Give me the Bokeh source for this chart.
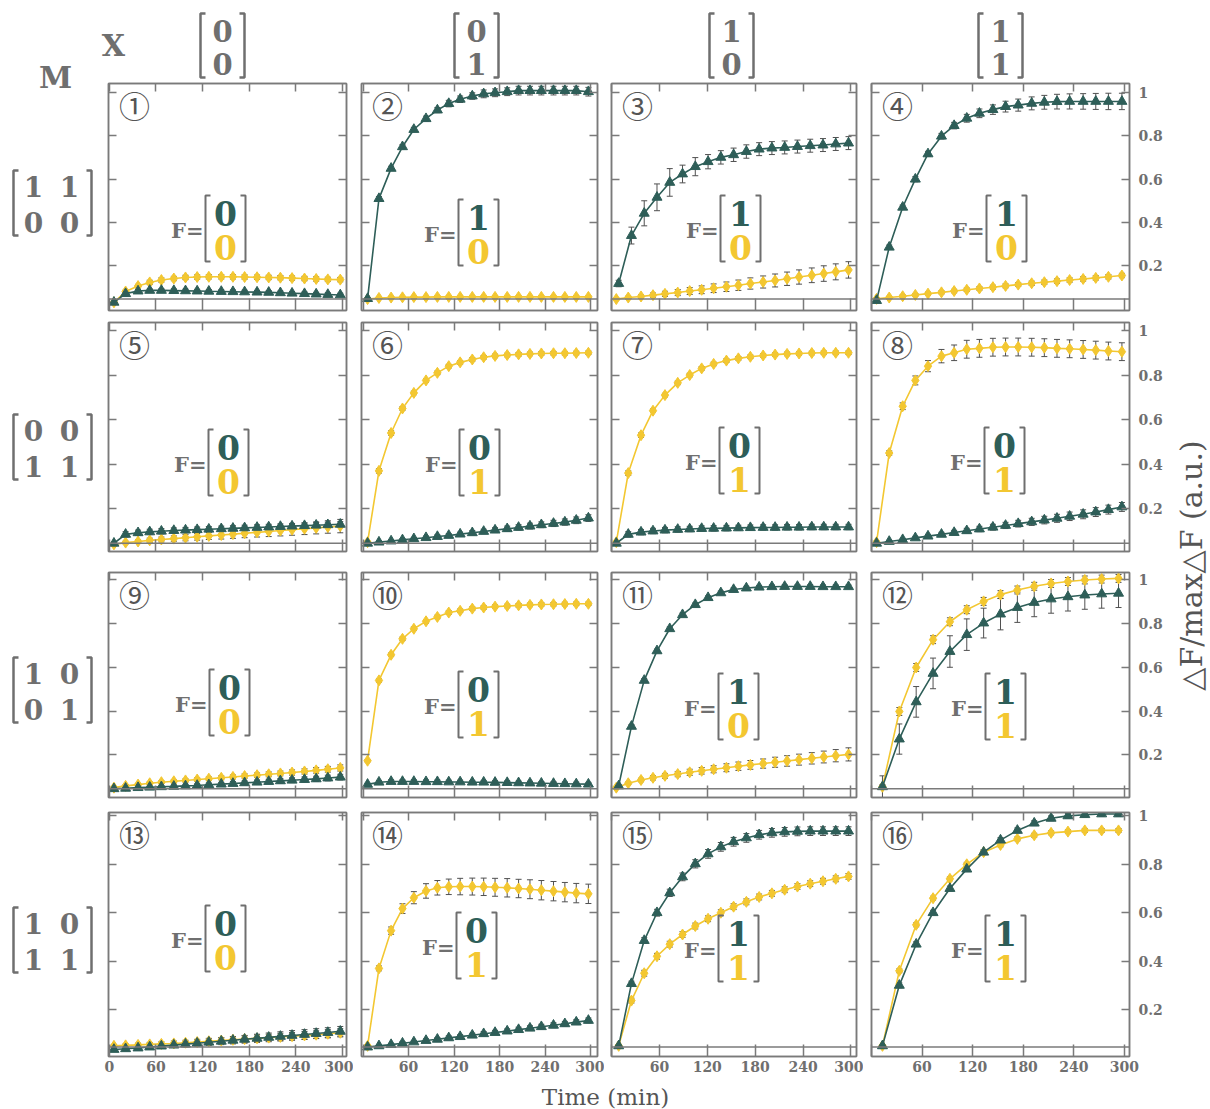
from bokeh.plotting import figure
from bokeh.models import (Range1d, LinearAxis, FixedTicker, Span, Whisker, TeeHead,
                          ColumnDataSource, NumeralTickFormatter, Label)
from bokeh.layouts import row, column
from bokeh.embed import file_html
from bokeh.resources import INLINE
from bokeh.core.properties import value
import math

# ---------------- data ----------------
T20 = [6, 21, 37, 52, 67, 83, 98, 113, 128, 144, 159, 174, 190, 205, 220, 235, 251, 266, 281, 297]
T19 = [9, 25, 41, 57, 73, 89, 105, 121, 137, 153, 169, 185, 201, 217, 233, 249, 265, 281, 297]
T15 = [13, 33, 53, 73, 93, 113, 133, 153, 173, 193, 213, 233, 253, 273, 293]

x_ticks = [0, 60, 120, 180, 240, 300]
y_ticks = [0.2, 0.4, 0.6, 0.8, 1.0]
col_header = [["0", "0"], ["0", "1"], ["1", "0"], ["1", "1"]]
row_header = [[["1", "1"], ["0", "0"]], [["0", "0"], ["1", "1"]],
              [["1", "0"], ["0", "1"]], [["1", "0"], ["1", "1"]]]
f_values = [["0", "0"], ["1", "0"], ["1", "0"], ["1", "0"],
            ["0", "0"], ["0", "1"], ["0", "1"], ["0", "1"],
            ["0", "0"], ["0", "1"], ["1", "0"], ["1", "1"],
            ["0", "0"], ["0", "1"], ["1", "1"], ["1", "1"]]
numbers = ["①", "②", "③", "④", "⑤", "⑥", "⑦", "⑧", "⑨", "⑩", "⑪", "⑫", "⑬", "⑭", "⑮", "⑯"]

p1_g = [0.03, 0.07, 0.082, 0.085, 0.085, 0.084, 0.083, 0.082, 0.081, 0.08, 0.079, 0.078, 0.077, 0.076, 0.074, 0.072, 0.07, 0.068, 0.066, 0.064]
p1_ge = [0.004, 0.006, 0.007, 0.007, 0.008, 0.008, 0.008, 0.008, 0.008, 0.008, 0.008, 0.008, 0.008, 0.008, 0.008, 0.008, 0.008, 0.008, 0.008, 0.008]
p1_y = [0.03, 0.08, 0.105, 0.122, 0.133, 0.14, 0.145, 0.147, 0.148, 0.148, 0.148, 0.147, 0.146, 0.145, 0.144, 0.142, 0.14, 0.138, 0.136, 0.135]
p1_ye = [0.004, 0.006, 0.008, 0.01, 0.01, 0.01, 0.01, 0.01, 0.01, 0.01, 0.01, 0.01, 0.01, 0.01, 0.01, 0.01, 0.01, 0.01, 0.01, 0.01]

p2_g = [0.047, 0.51, 0.65, 0.75, 0.83, 0.88, 0.92, 0.95, 0.97, 0.985, 0.995, 1.0, 1.005, 1.01, 1.01, 1.01, 1.01, 1.01, 1.01, 1.005]
p2_ge = [0.005, 0.01, 0.01, 0.01, 0.01, 0.012, 0.012, 0.015, 0.015, 0.015, 0.018, 0.018, 0.018, 0.02, 0.02, 0.02, 0.02, 0.02, 0.02, 0.02]
p2_y = [0.045, 0.05, 0.052, 0.053, 0.054, 0.054, 0.055, 0.055, 0.055, 0.055, 0.055, 0.055, 0.055, 0.055, 0.055, 0.055, 0.055, 0.055, 0.055, 0.055]
p2_ye = [0.003, 0.004, 0.004, 0.004, 0.004, 0.004, 0.004, 0.004, 0.004, 0.004, 0.004, 0.004, 0.004, 0.004, 0.004, 0.004, 0.004, 0.004, 0.004, 0.004]

p3_g = [0.117, 0.339, 0.442, 0.516, 0.585, 0.624, 0.658, 0.681, 0.701, 0.713, 0.728, 0.739, 0.744, 0.747, 0.751, 0.755, 0.758, 0.763, 0.767]
p3_ge = [0.015, 0.039, 0.058, 0.062, 0.064, 0.041, 0.042, 0.033, 0.031, 0.031, 0.031, 0.03, 0.03, 0.03, 0.03, 0.03, 0.03, 0.03, 0.03]
p3_y = [0.045, 0.052, 0.057, 0.063, 0.069, 0.075, 0.082, 0.088, 0.095, 0.102, 0.109, 0.117, 0.124, 0.131, 0.139, 0.147, 0.155, 0.163, 0.171, 0.18]
p3_ye = [0.004, 0.006, 0.008, 0.01, 0.012, 0.014, 0.016, 0.018, 0.02, 0.022, 0.024, 0.026, 0.028, 0.03, 0.031, 0.033, 0.034, 0.036, 0.037, 0.038]

p4_g = [0.038, 0.285, 0.47, 0.6, 0.717, 0.799, 0.848, 0.882, 0.905, 0.922, 0.936, 0.943, 0.951, 0.956, 0.959, 0.96, 0.96, 0.96, 0.96, 0.96]
p4_ge = [0.005, 0.01, 0.01, 0.012, 0.012, 0.013, 0.015, 0.018, 0.02, 0.022, 0.025, 0.028, 0.03, 0.032, 0.034, 0.035, 0.036, 0.037, 0.038, 0.038]
p4_y = [0.046, 0.052, 0.058, 0.064, 0.07, 0.076, 0.082, 0.088, 0.094, 0.1, 0.106, 0.112, 0.118, 0.123, 0.128, 0.133, 0.138, 0.143, 0.148, 0.154]
p4_ye = [0.004, 0.005, 0.006, 0.006, 0.007, 0.007, 0.008, 0.008, 0.008, 0.009, 0.009, 0.009, 0.01, 0.01, 0.01, 0.01, 0.01, 0.01, 0.01, 0.01]

p5_g = [0.045, 0.085, 0.092, 0.096, 0.099, 0.102, 0.104, 0.106, 0.108, 0.11, 0.112, 0.114, 0.116, 0.118, 0.12, 0.122, 0.124, 0.126, 0.128, 0.13]
p5_ge = [0.005, 0.012, 0.012, 0.012, 0.012, 0.012, 0.012, 0.012, 0.012, 0.012, 0.012, 0.012, 0.012, 0.012, 0.012, 0.012, 0.012, 0.012, 0.012, 0.012]
p5_y = [0.04, 0.048, 0.053, 0.058, 0.062, 0.066, 0.07, 0.074, 0.078, 0.082, 0.086, 0.09, 0.094, 0.098, 0.102, 0.106, 0.11, 0.114, 0.118, 0.122]
p5_ye = [0.004, 0.006, 0.008, 0.01, 0.011, 0.012, 0.014, 0.015, 0.016, 0.018, 0.019, 0.02, 0.021, 0.023, 0.024, 0.025, 0.026, 0.027, 0.028, 0.03]

p6_g = [0.045, 0.05, 0.055, 0.06, 0.065, 0.07, 0.075, 0.08, 0.086, 0.092, 0.098, 0.104, 0.11, 0.116, 0.122, 0.128, 0.134, 0.14, 0.148, 0.158]
p6_ge = [0.004, 0.005, 0.005, 0.006, 0.006, 0.007, 0.008, 0.008, 0.009, 0.01, 0.01, 0.011, 0.012, 0.012, 0.013, 0.013, 0.014, 0.014, 0.015, 0.015]
p6_y = [0.05, 0.37, 0.54, 0.65, 0.72, 0.776, 0.81, 0.84, 0.857, 0.87, 0.88, 0.886, 0.89, 0.893, 0.895, 0.897, 0.898, 0.898, 0.899, 0.9]
p6_ye = [0.004, 0.01, 0.01, 0.008, 0.008, 0.008, 0.008, 0.008, 0.008, 0.008, 0.008, 0.008, 0.008, 0.008, 0.008, 0.008, 0.008, 0.008, 0.008, 0.008]

p7_g = [0.045, 0.085, 0.095, 0.1, 0.104, 0.107, 0.109, 0.111, 0.112, 0.113, 0.114, 0.115, 0.116, 0.116, 0.117, 0.117, 0.118, 0.118, 0.118, 0.118]
p7_ge = [0.005, 0.012, 0.012, 0.012, 0.012, 0.012, 0.012, 0.012, 0.012, 0.012, 0.012, 0.012, 0.012, 0.012, 0.012, 0.012, 0.012, 0.012, 0.012, 0.012]
p7_y = [0.05, 0.36, 0.53, 0.64, 0.71, 0.765, 0.8, 0.83, 0.85, 0.865, 0.875, 0.882, 0.888, 0.892, 0.895, 0.897, 0.899, 0.9, 0.9, 0.9]
p7_ye = [0.004, 0.01, 0.01, 0.008, 0.008, 0.008, 0.008, 0.008, 0.008, 0.008, 0.008, 0.008, 0.008, 0.008, 0.008, 0.008, 0.008, 0.008, 0.008, 0.008]

p8_g = [0.045, 0.053, 0.061, 0.069, 0.077, 0.085, 0.093, 0.101, 0.109, 0.117, 0.125, 0.133, 0.141, 0.149, 0.157, 0.166, 0.175, 0.185, 0.196, 0.208]
p8_ge = [0.004, 0.005, 0.006, 0.007, 0.008, 0.009, 0.01, 0.011, 0.012, 0.013, 0.014, 0.015, 0.016, 0.017, 0.018, 0.019, 0.02, 0.02, 0.02, 0.02]
p8_y = [0.05, 0.45, 0.66, 0.776, 0.84, 0.885, 0.9, 0.916, 0.92, 0.925, 0.926, 0.926, 0.925, 0.923, 0.92, 0.918, 0.915, 0.912, 0.908, 0.905]
p8_ye = [0.005, 0.01, 0.015, 0.02, 0.025, 0.03, 0.035, 0.04, 0.04, 0.04, 0.04, 0.04, 0.04, 0.04, 0.04, 0.04, 0.04, 0.04, 0.04, 0.04]

p9_g = [0.045, 0.047, 0.05, 0.052, 0.054, 0.056, 0.058, 0.06, 0.063, 0.066, 0.069, 0.072, 0.075, 0.078, 0.081, 0.084, 0.087, 0.09, 0.094, 0.098]
p9_ge = [0.004, 0.004, 0.005, 0.005, 0.006, 0.006, 0.007, 0.007, 0.008, 0.008, 0.009, 0.009, 0.01, 0.01, 0.011, 0.011, 0.012, 0.012, 0.013, 0.013]
p9_y = [0.05, 0.058, 0.064, 0.07, 0.075, 0.079, 0.083, 0.087, 0.091, 0.095, 0.099, 0.103, 0.107, 0.111, 0.115, 0.119, 0.124, 0.129, 0.134, 0.14]
p9_ye = [0.004, 0.005, 0.005, 0.006, 0.006, 0.007, 0.007, 0.008, 0.008, 0.009, 0.009, 0.01, 0.01, 0.011, 0.011, 0.012, 0.012, 0.013, 0.013, 0.014]

p10_g = [0.065, 0.075, 0.078, 0.078, 0.078, 0.077, 0.077, 0.076, 0.076, 0.075, 0.075, 0.074, 0.073, 0.072, 0.071, 0.07, 0.069, 0.068, 0.067, 0.066]
p10_ge = [0.005, 0.008, 0.008, 0.008, 0.008, 0.008, 0.008, 0.008, 0.008, 0.008, 0.008, 0.008, 0.008, 0.008, 0.008, 0.008, 0.008, 0.008, 0.008, 0.008]
p10_y = [0.173, 0.54, 0.657, 0.73, 0.776, 0.81, 0.83, 0.85, 0.858, 0.868, 0.873, 0.877, 0.88, 0.883, 0.885, 0.887, 0.888, 0.889, 0.89, 0.89]
p10_ye = [0.005, 0.008, 0.008, 0.008, 0.008, 0.008, 0.008, 0.008, 0.008, 0.008, 0.008, 0.008, 0.008, 0.008, 0.008, 0.008, 0.008, 0.008, 0.008, 0.008]

p11_g = [0.058, 0.33, 0.54, 0.675, 0.776, 0.84, 0.886, 0.918, 0.94, 0.955, 0.962, 0.966, 0.968, 0.969, 0.969, 0.969, 0.968, 0.968, 0.968]
p11_ge = [0.005, 0.008, 0.008, 0.008, 0.008, 0.008, 0.008, 0.008, 0.008, 0.008, 0.008, 0.008, 0.008, 0.008, 0.008, 0.008, 0.008, 0.008, 0.008]
p11_y = [0.05, 0.07, 0.085, 0.095, 0.104, 0.112, 0.12, 0.127, 0.134, 0.141, 0.148, 0.154, 0.16, 0.166, 0.172, 0.178, 0.184, 0.19, 0.196, 0.202]
p11_ye = [0.004, 0.006, 0.008, 0.01, 0.011, 0.012, 0.014, 0.015, 0.016, 0.018, 0.019, 0.02, 0.021, 0.023, 0.024, 0.025, 0.026, 0.027, 0.028, 0.03]

p12_g = [0.054, 0.272, 0.442, 0.572, 0.672, 0.749, 0.802, 0.843, 0.873, 0.896, 0.912, 0.922, 0.93, 0.935, 0.938]
p12_ge = [0.05, 0.069, 0.07, 0.07, 0.072, 0.072, 0.068, 0.072, 0.068, 0.065, 0.065, 0.065, 0.065, 0.065, 0.065]
p12_y = [0.054, 0.398, 0.599, 0.726, 0.808, 0.863, 0.901, 0.932, 0.953, 0.97, 0.983, 0.992, 0.999, 1.003, 1.006]
p12_ye = [0.01, 0.018, 0.018, 0.018, 0.018, 0.018, 0.018, 0.018, 0.018, 0.018, 0.018, 0.018, 0.018, 0.018, 0.018]

p13_g = [0.035, 0.038, 0.041, 0.045, 0.049, 0.053, 0.057, 0.061, 0.065, 0.069, 0.073, 0.077, 0.081, 0.085, 0.089, 0.093, 0.097, 0.101, 0.105, 0.11]
p13_ge = [0.005, 0.006, 0.007, 0.008, 0.009, 0.01, 0.011, 0.012, 0.013, 0.014, 0.015, 0.016, 0.017, 0.018, 0.019, 0.02, 0.02, 0.02, 0.02, 0.02]
p13_y = [0.05, 0.052, 0.054, 0.056, 0.058, 0.06, 0.063, 0.066, 0.069, 0.072, 0.075, 0.078, 0.081, 0.084, 0.087, 0.09, 0.093, 0.096, 0.1, 0.104]
p13_ye = [0.005, 0.006, 0.007, 0.008, 0.009, 0.01, 0.01, 0.011, 0.012, 0.012, 0.013, 0.013, 0.014, 0.014, 0.015, 0.015, 0.016, 0.016, 0.017, 0.017]

p14_g = [0.045, 0.05, 0.055, 0.061, 0.066, 0.072, 0.077, 0.083, 0.088, 0.094, 0.1, 0.105, 0.111, 0.117, 0.123, 0.129, 0.135, 0.141, 0.148, 0.155]
p14_ge = [0.004, 0.005, 0.005, 0.006, 0.006, 0.007, 0.007, 0.008, 0.008, 0.008, 0.009, 0.009, 0.009, 0.01, 0.01, 0.01, 0.01, 0.01, 0.01, 0.01]
p14_y = [0.05, 0.37, 0.526, 0.617, 0.662, 0.69, 0.703, 0.707, 0.708, 0.708, 0.707, 0.705, 0.703, 0.7, 0.697, 0.693, 0.689, 0.685, 0.681, 0.678]
p14_ye = [0.005, 0.01, 0.015, 0.02, 0.025, 0.03, 0.03, 0.032, 0.034, 0.035, 0.036, 0.037, 0.038, 0.038, 0.039, 0.04, 0.04, 0.04, 0.04, 0.04]

p15_g = [0.05, 0.307, 0.485, 0.6, 0.682, 0.748, 0.802, 0.843, 0.872, 0.893, 0.909, 0.922, 0.93, 0.934, 0.936, 0.937, 0.937, 0.937, 0.937]
p15_ge = [0.005, 0.01, 0.012, 0.014, 0.015, 0.016, 0.017, 0.018, 0.018, 0.018, 0.018, 0.018, 0.018, 0.018, 0.018, 0.018, 0.018, 0.018, 0.018]
p15_y = [0.05, 0.237, 0.35, 0.42, 0.47, 0.51, 0.545, 0.575, 0.6, 0.625, 0.645, 0.665, 0.68, 0.695, 0.708, 0.72, 0.73, 0.74, 0.75]
p15_ye = [0.005, 0.01, 0.012, 0.012, 0.012, 0.012, 0.012, 0.012, 0.012, 0.012, 0.012, 0.012, 0.012, 0.012, 0.012, 0.012, 0.012, 0.012, 0.012]

p16_g = [0.05, 0.3, 0.47, 0.6, 0.7, 0.78, 0.85, 0.9, 0.94, 0.97, 0.99, 1.0, 1.005, 1.008, 1.008]
p16_ge = [0.005, 0.01, 0.01, 0.01, 0.01, 0.01, 0.01, 0.01, 0.01, 0.01, 0.01, 0.01, 0.01, 0.01, 0.01]
p16_y = [0.05, 0.36, 0.55, 0.66, 0.74, 0.8, 0.85, 0.88, 0.905, 0.92, 0.93, 0.935, 0.94, 0.94, 0.94]
p16_ye = [0.005, 0.008, 0.008, 0.008, 0.008, 0.008, 0.008, 0.008, 0.008, 0.008, 0.008, 0.008, 0.008, 0.008, 0.008]

series = [
    (T20, p1_g, p1_ge, T20, p1_y, p1_ye), (T20, p2_g, p2_ge, T20, p2_y, p2_ye),
    (T19, p3_g, p3_ge, T20, p3_y, p3_ye), (T20, p4_g, p4_ge, T20, p4_y, p4_ye),
    (T20, p5_g, p5_ge, T20, p5_y, p5_ye), (T20, p6_g, p6_ge, T20, p6_y, p6_ye),
    (T20, p7_g, p7_ge, T20, p7_y, p7_ye), (T20, p8_g, p8_ge, T20, p8_y, p8_ye),
    (T20, p9_g, p9_ge, T20, p9_y, p9_ye), (T20, p10_g, p10_ge, T20, p10_y, p10_ye),
    (T19, p11_g, p11_ge, T20, p11_y, p11_ye), (T15, p12_g, p12_ge, T15, p12_y, p12_ye),
    (T20, p13_g, p13_ge, T20, p13_y, p13_ye), (T20, p14_g, p14_ge, T20, p14_y, p14_ye),
    (T19, p15_g, p15_ge, T19, p15_y, p15_ye), (T15, p16_g, p16_ge, T15, p16_y, p16_ye),
]

# ---------------- style / layout ----------------
GREEN = "#2e5e58"
YELLOW = "#f3c731"
GRAY = "#6f6f6f"
FRAME = "#7a7a7a"
ERR = "#505050"
SERIF = "DejaVu Serif"

HEADER_H = 80
col_w = [253, 251, 259, 309]
col_bl = [8, 8, 7, 8]
col_br = [7, 7, 7, 43]
row_h = [236, 245, 243, 276]
row_bt = [3, 6, 11, 8]
row_bb = [6, 10, 7, 24]
frame_l = [108, 361, 611, 871]
frame_t = [83, 322, 572, 812]
x_ranges = [(-1, 305), (-2, 309), (0, 307), (0, 306)]
y_ranges = [(-0.008, 1.043), (0.008, 1.036), (0.005, 1.033), (0.006, 1.014)]
f_pos = [(205, 228), (458, 232), (720, 228), (986, 228),
         (208, 462), (459, 462), (719, 460), (984, 460),
         (209, 702), (458, 704), (718, 706), (985, 706),
         (205, 938), (456, 945), (718, 948), (985, 948)]


def px2data(r, c, ax, ay):
    fw = col_w[c] - col_bl[c] - col_br[c]
    fh = row_h[r] - row_bt[r] - row_bb[r]
    x0, x1 = x_ranges[c]
    y0, y1 = y_ranges[r]
    return x0 + (ax - frame_l[c]) / fw * (x1 - x0), y1 - (ay - frame_t[r]) / fh * (y1 - y0)


def bracket_xy(bx, top, bot, w, s=5):
    xs = [[bx + s, bx, bx, bx + s], [bx + w - s, bx + w, bx + w, bx + w - s]]
    ys = [[top, top, bot, bot], [top, top, bot, bot]]
    return xs, ys


def style_axis(ax, ticks, show, tick_in=8, fmt=None, standoff=6, overrides=None):
    ax.ticker = FixedTicker(ticks=ticks)
    ax.major_tick_in = tick_in
    ax.major_tick_out = 0
    ax.minor_tick_line_color = None
    ax.axis_line_color = FRAME
    ax.axis_line_width = 1.5
    ax.major_tick_line_color = FRAME
    ax.major_tick_line_width = 1.5
    if show:
        ax.major_label_text_font = SERIF
        ax.major_label_text_font_style = "bold"
        ax.major_label_text_font_size = "14px"
        ax.major_label_text_color = GRAY
        ax.major_label_standoff = standoff
        if fmt:
            ax.formatter = fmt
        if overrides:
            ax.major_label_overrides = overrides
    else:
        ax.major_label_text_font_size = "0px"
        ax.major_label_standoff = 0


def make_panel(k):
    r, c = divmod(k, 4)
    p = figure(width=col_w[c], height=row_h[r],
               x_range=Range1d(*x_ranges[c]), y_range=Range1d(*y_ranges[r]),
               output_backend="svg", toolbar_location=None,
               min_border_left=col_bl[c], min_border_right=col_br[c],
               min_border_top=row_bt[r], min_border_bottom=row_bb[r])
    p.xgrid.visible = False
    p.ygrid.visible = False
    p.outline_line_color = FRAME
    p.outline_line_width = 1.5
    p.border_fill_color = "white"

    style_axis(p.xaxis[0], x_ticks, r == 3, tick_in=12, standoff=4,
               overrides=None if c == 0 else {0: ""})
    style_axis(p.yaxis[0], y_ticks, False)
    top = LinearAxis()
    style_axis(top, x_ticks, False)
    p.add_layout(top, "above")
    right = LinearAxis()
    style_axis(right, y_ticks, c == 3, fmt=NumeralTickFormatter(format="0.[0]"), standoff=9)
    p.add_layout(right, "right")

    p.add_layout(Span(location=0.045, dimension="width", line_color=FRAME, line_width=1.5))

    tg, g, ge, ty, yv, ye = series[k]
    ys = ColumnDataSource(dict(t=ty, v=yv, lo=[a - b for a, b in zip(yv, ye)], hi=[a + b for a, b in zip(yv, ye)]))
    gs = ColumnDataSource(dict(t=tg, v=g, lo=[a - b for a, b in zip(g, ge)], hi=[a + b for a, b in zip(g, ge)]))
    for src in (ys, gs):
        p.add_layout(Whisker(source=src, base="t", lower="lo", upper="hi", line_color=ERR, line_width=1,
                             upper_head=TeeHead(size=6, line_color=ERR, line_width=1),
                             lower_head=TeeHead(size=6, line_color=ERR, line_width=1)))
    p.line("t", "v", source=ys, line_color=YELLOW, line_width=1.6)
    p.scatter("t", "v", source=ys, marker="diamond", size=11, fill_color=YELLOW, line_color=YELLOW)
    p.line("t", "v", source=gs, line_color=GREEN, line_width=1.6)
    p.scatter("t", "v", source=gs, marker="triangle", size=10, fill_color=GREEN, line_color=GREEN)

    # circled panel number
    nx, ny = px2data(r, c, frame_l[c] + 26, frame_t[r] + 21)
    p.add_layout(Label(x=nx, y=ny, text=numbers[k], text_font="Noto Sans CJK JP",
                       text_font_size="31px", text_color="#555555",
                       text_align="center", text_baseline="middle"))

    # F = [a; b]
    bx, cy = f_pos[k]
    w = 40
    xs, ysb = bracket_xy(bx, cy - 33, cy + 33, w)
    dxs = [[px2data(r, c, a, 0)[0] for a in line] for line in xs]
    dys = [[px2data(r, c, 0, b)[1] for b in line] for line in ysb]
    p.multi_line(dxs, dys, line_color=GRAY, line_width=2)
    fx, fy = px2data(r, c, bx - 2, cy + 2)
    p.add_layout(Label(x=fx, y=fy, text="F=", text_font=SERIF, text_font_style="bold",
                       text_font_size="21px", text_color=GRAY, text_align="right", text_baseline="middle"))
    tx, ty1 = px2data(r, c, bx + w / 2, cy - 15)
    _, ty2 = px2data(r, c, bx + w / 2, cy + 19)
    p.add_layout(Label(x=tx, y=ty1, text=f_values[k][0], text_font=SERIF, text_font_style="bold",
                       text_font_size="33px", text_color=GREEN, text_align="center", text_baseline="middle"))
    p.add_layout(Label(x=tx, y=ty2, text=f_values[k][1], text_font=SERIF, text_font_style="bold",
                       text_font_size="33px", text_color=YELLOW, text_align="center", text_baseline="middle"))
    return p


def blank(w, h, xr, yr):
    p = figure(width=w, height=h, x_range=Range1d(*xr), y_range=Range1d(*yr),
               output_backend="svg", toolbar_location=None, x_axis_type=None, y_axis_type=None,
               min_border=0)
    p.xgrid.visible = False
    p.ygrid.visible = False
    p.outline_line_color = None
    p.border_fill_color = "white"
    return p


panels = [make_panel(k) for k in range(16)]

# header (x from 100 to 1172, y pixel-down 0..80)
header = blank(1072, HEADER_H, (100, 1172), (HEADER_H, 0))
header.text(x=[113], y=[45], text=["X"], text_font=value(SERIF), text_font_style="bold",
            text_font_size="30px", text_color=GRAY, text_align="center", text_baseline="middle")
col_cx = [222, 476, 731, 1000]
for cx, vals in zip(col_cx, col_header):
    xs, ys = bracket_xy(cx - 22, 13, 77, 44)
    header.multi_line(xs, ys, line_color=GRAY, line_width=2.5)
    header.text(x=[cx, cx], y=[30, 63], text=vals, text_font=value(SERIF), text_font_style="bold",
                text_font_size="29px", text_color=GRAY, text_align="center", text_baseline="middle")

# left column (x 0..100, y pixel-down 0..1109)
left = blank(100, 1109, (0, 100), (1109, 0))
left.text(x=[55], y=[77], text=["M"], text_font=value(SERIF), text_font_style="bold",
          text_font_size="30px", text_color=GRAY, text_align="center", text_baseline="middle")
row_cy = [203, 447, 690, 940]
for cy, vals in zip(row_cy, row_header):
    xs, ys = bracket_xy(13, cy - 33, cy + 32, 78)
    left.multi_line(xs, ys, line_color=GRAY, line_width=2.5)
    left.text(x=[33, 69, 33, 69], y=[cy - 17, cy - 17, cy + 19, cy + 19],
              text=[vals[0][0], vals[0][1], vals[1][0], vals[1][1]], text_font=value(SERIF),
              text_font_style="bold", text_font_size="28px", text_color=GRAY,
              text_align="center", text_baseline="middle")

# footer
footer = blank(1072, 29, (100, 1172), (29, 0))
footer.text(x=[605], y=[16], text=["Time (min)"], text_font=value(SERIF), text_font_size="23px",
            text_color="#555555", text_align="center", text_baseline="middle")

# right title
right = blank(38, 1109, (1172, 1210), (1109, 0))
right.text(x=[1191], y=[565], text=["△F/max△F (a.u.)"], text_font=value(SERIF), text_font_size="30px",
           text_color="#555555", text_align="center", text_baseline="middle", angle=math.pi / 2)

middle = column(header,
                row(*panels[0:4]), row(*panels[4:8]), row(*panels[8:12]), row(*panels[12:16]),
                footer)
layout = row(left, middle, right)

open("out.html", "w").write(file_html(layout, INLINE))
